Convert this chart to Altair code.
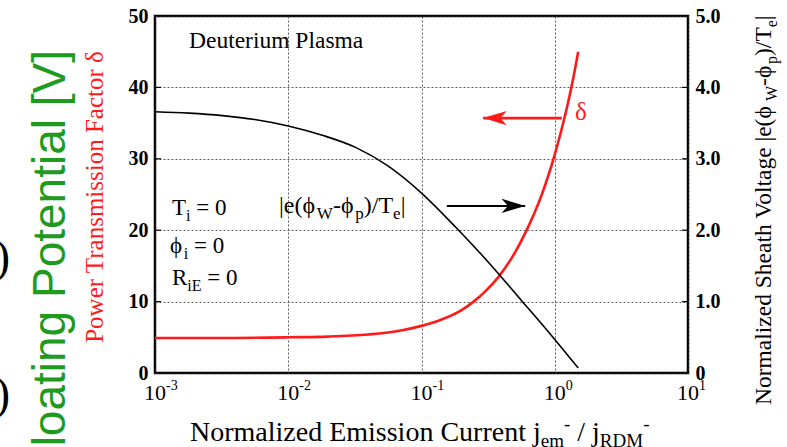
import altair as alt
import pandas as pd

SERIF = "Liberation Serif"
SANS = "Liberation Sans"
RED = "#ff1a1a"
GREEN = "#1e9a1e"

# Normalized emission current j_em / j_RDM and the power transmission factor delta
jem_delta = [0.001, 0.003, 0.01, 0.02, 0.04, 0.07, 0.1, 0.14, 0.2, 0.25, 0.3, 0.38,
             0.5, 0.6, 0.7, 0.8, 0.9, 1.0, 1.2, 1.35, 1.5]
delta = [4.9, 4.9, 5.0, 5.1, 5.4, 5.95, 6.6, 7.46, 8.81, 10.1, 11.4, 13.5,
         16.8, 19.6, 22.3, 25.0, 27.8, 30.6, 36.2, 40.5, 45.0]

# Normalized sheath voltage |e(phi_W - phi_p)/T_e|
jem_sheath = [0.001, 0.0018, 0.0032, 0.0056, 0.01, 0.018, 0.032, 0.056, 0.1, 0.18,
              0.32, 0.56, 1.0, 1.5]
sheath = [3.66, 3.64, 3.605, 3.55, 3.46, 3.33, 3.16, 2.90, 2.52, 2.045,
          1.545, 1.02, 0.47, 0.07]

x_ticks = [0.001, 0.01, 0.1, 1, 10]
x_exponents = ["-3", "-2", "-1", "0", "1"]
left_ticks = [0, 10, 20, 30, 40, 50]
right_ticks = [0, 1, 2, 3, 4, 5]
inner_ticks = [10, 20, 30, 40]

# Arrows: (start, end) in j_em, height on the delta axis
arrow_sheath = {"x": 0.155, "x2": 0.60, "y": 23.4}
arrow_delta = {"x": 1.13, "x2": 0.29, "y": 35.7}

W, H = 533, 357

x_scale = alt.Scale(type="log", domain=[0.001, 10])
y_left = alt.Scale(domain=[0, 50])
y_right = alt.Scale(domain=[0, 5])

GRID = dict(gridDash=[2, 2], gridColor="#333333", gridWidth=0.8, gridOpacity=1)

# one axis definition per scale, shared by every layer that uses the scale
x_axis = alt.Axis(values=x_ticks, grid=True, labels=False, ticks=False,
                  domain=False, title=None, **GRID)
left_axis = alt.Axis(values=left_ticks, grid=True, ticks=False, tickSize=0,
                     domain=False, title=None, labelFont=SERIF, labelFontSize=20,
                     labelFontWeight="bold", labelColor="black", labelPadding=7,
                     **GRID)
right_axis = alt.Axis(values=right_ticks, orient="right", grid=False, ticks=False,
                      tickSize=0, domain=False, title=None, labelFont=SERIF,
                      labelFontSize=20, labelFontWeight="bold", labelColor="black",
                      labelPadding=7,
                      labelExpr="datum.value == 0 ? '0' : format(datum.value, '.1f')")


def X(field):
    return alt.X(field, scale=x_scale, axis=x_axis)


def YL(field):
    return alt.Y(field, scale=y_left, axis=left_axis)


anchor = pd.DataFrame({"a": [0]})

# Approximate Times advance widths (per 1000 em) for laying out sub/superscripts
ADV = {'N': 722, 'o': 500, 'r': 333, 'm': 778, 'a': 444, 'l': 278, 'i': 278, 'z': 444,
       'e': 444, 'd': 500, ' ': 250, 'E': 611, 's': 389, 'n': 500, 'C': 667, 'u': 500,
       't': 278, 'j': 278, '/': 278, 'R': 667, 'D': 722, 'M': 889, '-': 333, 'S': 556,
       'h': 500, 'V': 722, 'g': 500, '|': 200, '(': 333, ')': 333, 'ϕ': 600, 'W': 944,
       'p': 500, 'T': 611, '=': 564, '0': 500}


def advance(txt, size):
    return sum(ADV.get(c, 500) for c in txt) / 1000.0 * size


def text_run(parts, x0, y0, vertical=False, color="black", font=SERIF):
    """Lay out (text, size, shift) pieces one after another along the baseline."""
    out = []
    pos = 0.0
    for txt, size, shift in parts:
        lead = len(txt) - len(txt.lstrip(" "))
        pos += advance(" " * lead, size)
        body = txt.lstrip(" ")
        if vertical:
            x, y, ang = x0 + shift, y0 - pos, 270
        else:
            x, y, ang = x0 + pos, y0 + shift, 0
        out.append(
            alt.Chart(anchor).mark_text(
                text=body, font=font, fontSize=size, color=color,
                align="left", baseline="alphabetic", angle=ang,
            ).encode(x=alt.value(x), y=alt.value(y))
        )
        pos += advance(body, size)
    return out


def label(txt, x, y, size, color="black", font=SERIF, align="left",
          baseline="alphabetic", angle=0):
    return alt.Chart(anchor).mark_text(
        text=txt, font=font, fontSize=size, color=color, align=align,
        baseline=baseline, angle=angle,
    ).encode(x=alt.value(x), y=alt.value(y))


delta_df = pd.DataFrame({"jem": jem_delta, "delta": delta})
sheath_df = pd.DataFrame({"jem": jem_sheath, "sheath": sheath})

delta_line = alt.Chart(delta_df).mark_line(
    color=RED, strokeWidth=2.6, interpolate="monotone"
).encode(x=X("jem:Q"), y=YL("delta:Q"))

sheath_line = alt.Chart(sheath_df).mark_line(
    color="black", strokeWidth=1.6, interpolate="monotone"
).encode(x=X("jem:Q"), y=alt.Y("sheath:Q", scale=y_right, axis=right_axis))

# small inward ticks on both vertical frame edges
tick_df = pd.DataFrame({"v": inner_ticks})
ticks_l = alt.Chart(tick_df).mark_rule(color="black", strokeWidth=1.2).encode(
    y=YL("v:Q"), x=alt.value(0), x2=alt.value(6))
ticks_r = alt.Chart(tick_df).mark_rule(color="black", strokeWidth=1.2).encode(
    y=YL("v:Q"), x=alt.value(W - 6), x2=alt.value(W))

# x tick labels drawn as 10 with a raised exponent
xt_df = pd.DataFrame({"x": x_ticks, "e": x_exponents})
xt_base = alt.Chart(xt_df).mark_text(
    text="10", font=SERIF, fontSize=22, align="center", baseline="alphabetic",
    color="black").encode(x=X("x:Q"), y=alt.value(384))
xt_exp = alt.Chart(xt_df).mark_text(
    font=SERIF, fontSize=14, align="left", baseline="alphabetic", dx=11,
    color="black").encode(x=X("x:Q"), y=alt.value(374), text="e:N")


def arrow(spec, color, width, head_path):
    d = pd.DataFrame([spec])
    shaft = alt.Chart(d).mark_rule(color=color, strokeWidth=width).encode(
        x=X("x:Q"), x2="x2:Q", y=YL("y:Q"))
    head = alt.Chart(d).mark_point(
        shape=head_path, filled=True, color=color, opacity=1, size=560, strokeWidth=0
    ).encode(x=X("x2:Q"), y=YL("y:Q"))
    return [shaft, head]


RIGHT_HEAD = "M0,0 L-2,-0.6 L-1.45,0 L-2,0.6 Z"
LEFT_HEAD = "M0,0 L2,-0.6 L1.45,0 L2,0.6 Z"

annotations = []
annotations += arrow(arrow_sheath, "black", 2.0, RIGHT_HEAD)
annotations += arrow(arrow_delta, RED, 2.6, LEFT_HEAD)
annotations.append(label("Deuterium Plasma", 34, 32, 23.5))
annotations.append(label("δ", 420, 104, 25, color=RED))
annotations += text_run([("T", 23, 0), ("i", 16, 6), (" = 0", 23, 0)], 17, 199)
annotations += text_run([("ϕ", 23, 0), ("i", 16, 6), (" = 0", 23, 0)], 15, 237)
annotations += text_run([("R", 23, 0), ("iE", 16, 6), (" = 0", 23, 0)], 17, 269)
annotations += text_run([("|e(ϕ", 24, 0), ("W", 17, 6), ("-ϕ", 24, 0), ("p", 17, 6),
                         (")/T", 24, 0), ("e", 17, 6), ("|", 24, 0)], 124, 197)

# axis titles
annotations += text_run([("Normalized Emission Current j", 28, 0), ("em", 19, 6),
                         ("-", 19, -11), (" / j", 28, 0), ("RDM", 19, 6),
                         ("-", 19, -11)], 35, 425)
annotations += text_run([("Normalized Sheath Voltage |e(ϕ", 23.5, 0), ("W", 16, 6),
                         ("-ϕ", 23.5, 0), ("p", 16, 6), (")/T", 23.5, 0), ("e", 16, 6),
                         ("|", 23.5, 0)], 616, 389, vertical=True)
annotations.append(label("Power Transmission Factor δ", -52, 181, 25, color=RED,
                         align="center", angle=270))
annotations.append(label("Floating Potential [V]", -90, 34, 46, color=GREEN,
                         font=SANS, align="right", angle=270))
annotations.append(label(")", -145, 242, 46, align="right", baseline="middle"))
annotations.append(label(")", -145, 379, 46, align="right", baseline="middle"))

left_layer = alt.layer(delta_line, ticks_l, ticks_r, xt_base, xt_exp, *annotations)
right_layer = alt.layer(sheath_line)

chart = alt.layer(left_layer, right_layer).resolve_scale(y="independent").properties(
    width=W, height=H,
    autosize=alt.AutoSizeParams(type="none"),
    padding={"left": 155, "top": 16, "right": 99, "bottom": 74},
    background="white",
).configure_view(stroke="black", strokeWidth=2.5)

chart.save("out.html", embed_options={"renderer": "svg", "actions": False})
